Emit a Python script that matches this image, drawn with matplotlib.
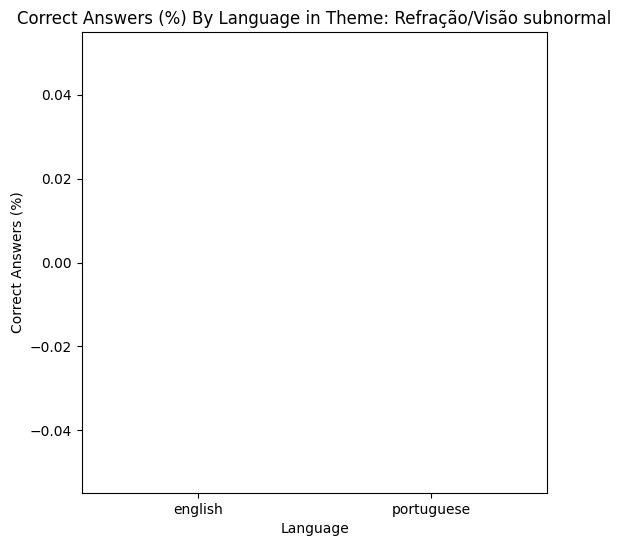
import matplotlib
matplotlib.use("Agg")
import matplotlib.pyplot as plt

# data: every language scored zero in this theme
languages = ['english', 'portuguese']
correct_pct = [0.0, 0.0]

fig = plt.figure(figsize=(6.21, 5.47), dpi=100)
ax = fig.add_axes([0.132, 0.0987, 0.749, 0.8428])
ax.bar(range(len(languages)), correct_pct, width=0.8, linewidth=0)
ax.set_xticks(range(len(languages)))
ax.set_xticklabels(languages)
ax.set_xlim(-0.5, len(languages) - 0.5)
ax.set_xlabel('Language')
ax.set_ylabel('Correct Answers (%)')
ax.set_title('Correct Answers (%) By Language in Theme: Refração/Visão subnormal')
fig.savefig('out.png', dpi=100)
